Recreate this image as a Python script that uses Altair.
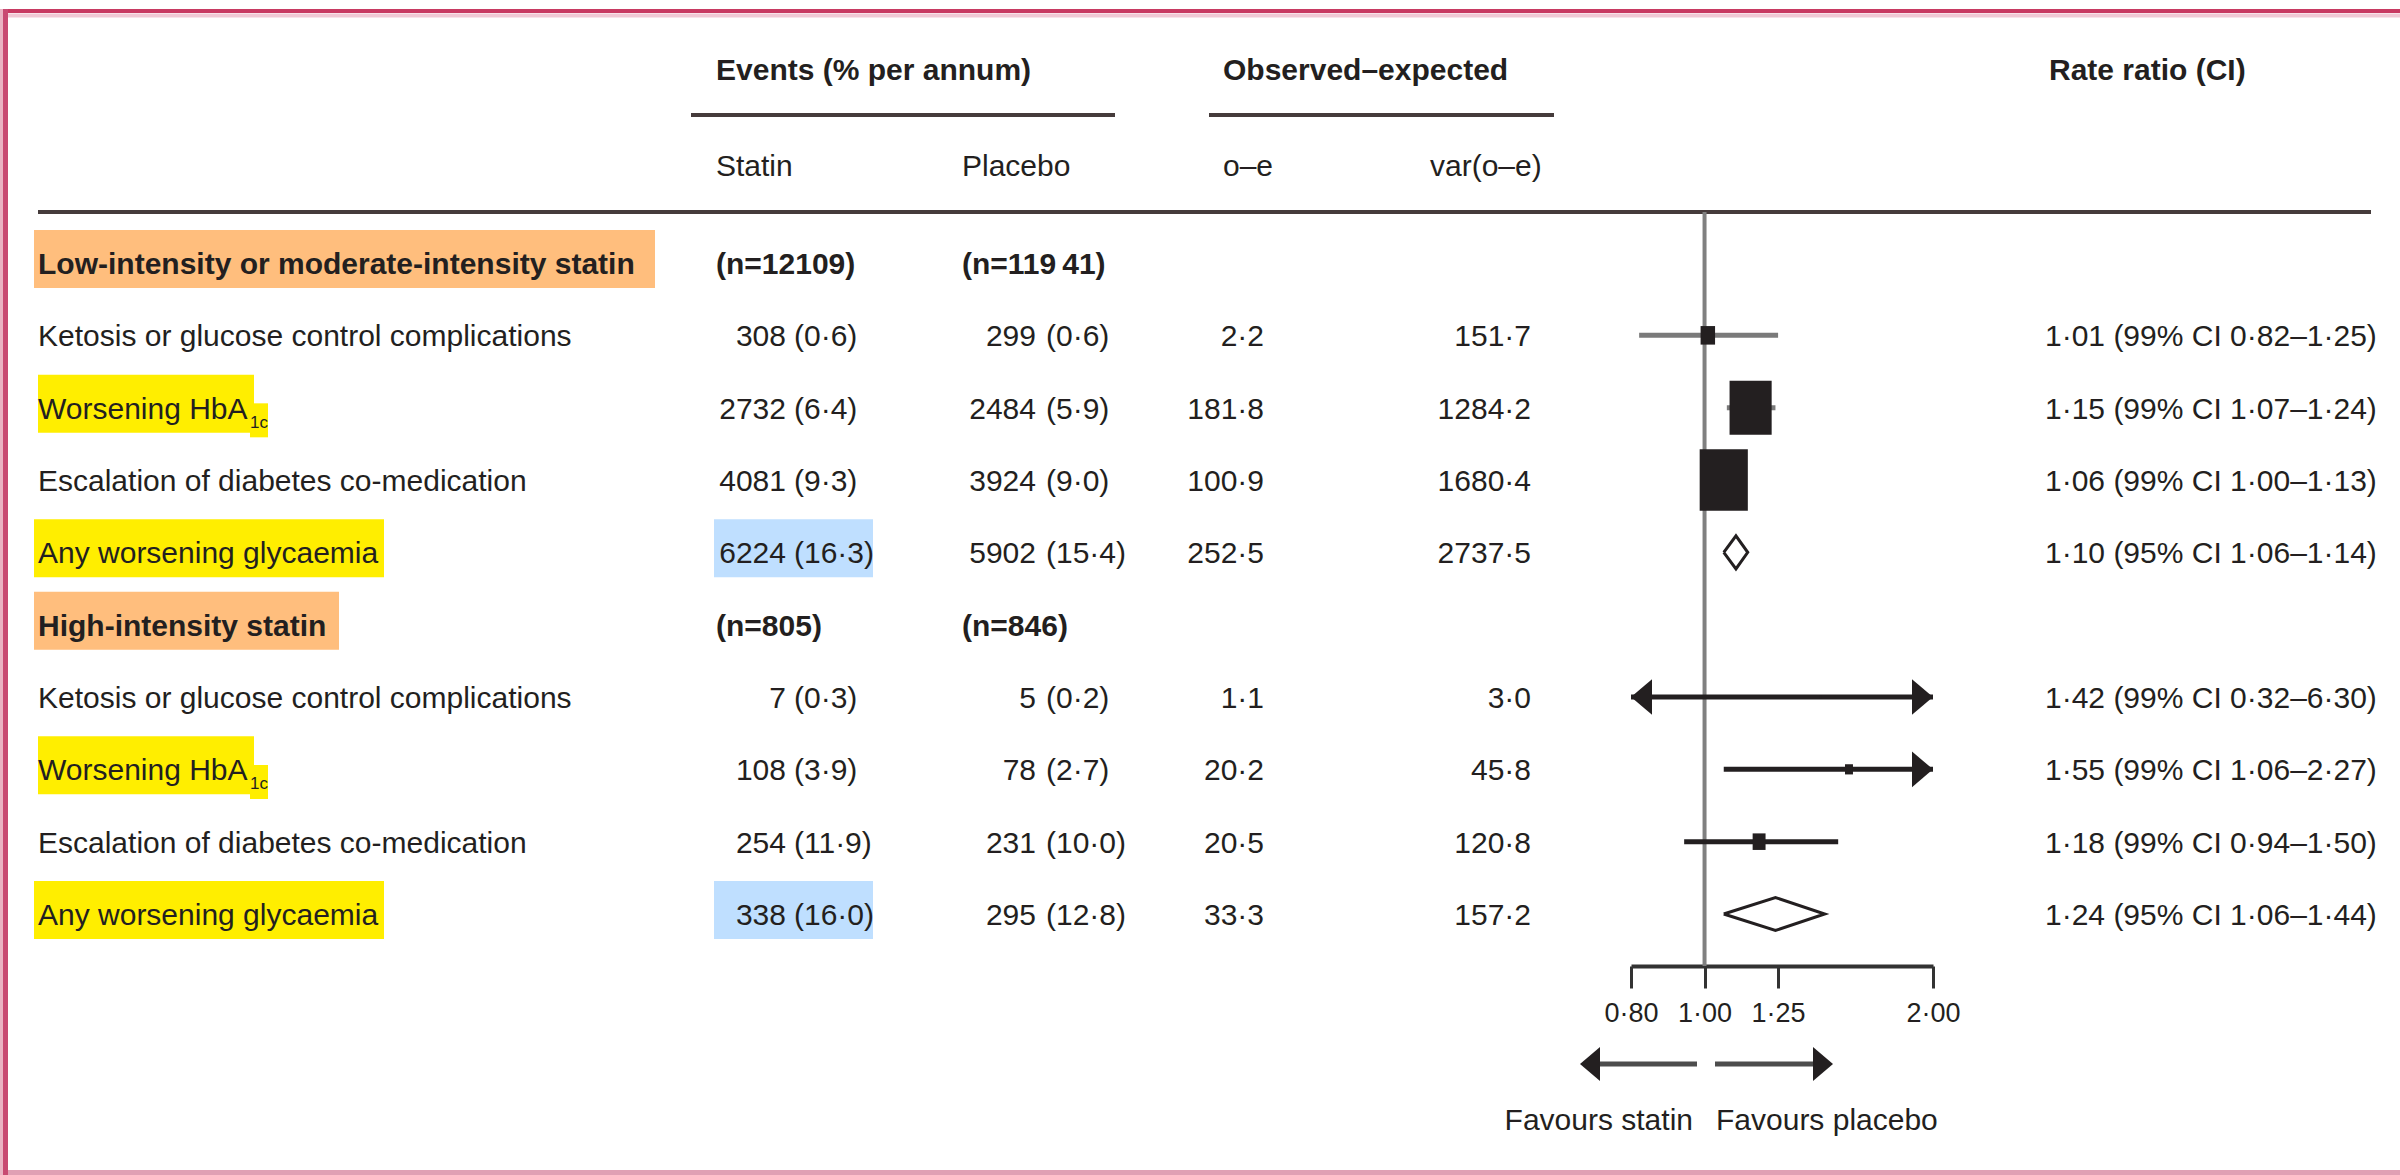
import altair as alt
import pandas as pd

FONT = "'Liberation Sans', Arial, sans-serif"
FS = 30  # body text size
INK = "#231f20"
RULE = "#453b3b"

# ---- table content -------------------------------------------------------
row_labels = [
    "Low-intensity or moderate-intensity statin",
    "Ketosis or glucose control complications",
    "Worsening HbA",
    "Escalation of diabetes co-medication",
    "Any worsening glycaemia",
    "High-intensity statin",
    "Ketosis or glucose control complications",
    "Worsening HbA",
    "Escalation of diabetes co-medication",
    "Any worsening glycaemia",
]
group_rows = [0, 5]
group_n_statin = ["(n=12109)", "(n=805)"]
group_n_placebo = ["(n=119\u200941)", "(n=846)"]
hba1c_rows = [2, 7]
summary_rows = [4, 9]

outcome_rows = [1, 2, 3, 4, 6, 7, 8, 9]
outcome_group = ["low", "low", "low", "low", "high", "high", "high", "high"]
statin_events = [308, 2732, 4081, 6224, 7, 108, 254, 338]
statin_pct = [0.6, 6.4, 9.3, 16.3, 0.3, 3.9, 11.9, 16.0]
placebo_events = [299, 2484, 3924, 5902, 5, 78, 231, 295]
placebo_pct = [0.6, 5.9, 9.0, 15.4, 0.2, 2.7, 10.0, 12.8]
o_minus_e = [2.2, 181.8, 100.9, 252.5, 1.1, 20.2, 20.5, 33.3]
var_o_minus_e = [151.7, 1284.2, 1680.4, 2737.5, 3.0, 45.8, 120.8, 157.2]
rate_ratio = [1.01, 1.15, 1.06, 1.10, 1.42, 1.55, 1.18, 1.24]
ci_low = [0.82, 1.07, 1.00, 1.06, 0.32, 1.06, 0.94, 1.06]
ci_high = [1.25, 1.24, 1.13, 1.14, 6.30, 2.27, 1.50, 1.44]
ci_level = [99, 99, 99, 95, 99, 99, 99, 95]

axis_ticks = [0.80, 1.00, 1.25, 2.00]
AXIS_MIN, AXIS_MAX = axis_ticks[0], axis_ticks[-1]


def dot(v, nd):
    return f"{v:.{nd}f}".replace(".", "\u00b7")


# ---- data frames ---------------------------------------------------------
labels_df = pd.DataFrame({"row": list(range(len(row_labels))), "label": row_labels})
groups_df = labels_df[labels_df.row.isin(group_rows)].copy()
groups_df["n_statin"] = group_n_statin
groups_df["n_placebo"] = group_n_placebo
items_df = labels_df[~labels_df.row.isin(group_rows)]
sub_df = pd.DataFrame({"row": hba1c_rows, "sub": ["1c"] * len(hba1c_rows)})

out = pd.DataFrame({
    "row": outcome_rows,
    "group": outcome_group,
    "s_n": [str(v) for v in statin_events],
    "s_p": [f"({dot(v, 1)})" for v in statin_pct],
    "p_n": [str(v) for v in placebo_events],
    "p_p": [f"({dot(v, 1)})" for v in placebo_pct],
    "oe": [dot(v, 1) for v in o_minus_e],
    "var": var_o_minus_e,
    "var_t": [dot(v, 1) for v in var_o_minus_e],
    "rr": rate_ratio,
    "lo": ci_low,
    "hi": ci_high,
    "rr_t": [f"{dot(r, 2)} ({l}% CI {dot(a, 2)}\u2013{dot(b, 2)})"
             for r, l, a, b in zip(rate_ratio, ci_level, ci_low, ci_high)],
})
out["summary"] = out.row.isin(summary_rows)
out["lo_c"] = out.lo.clip(lower=AXIS_MIN, upper=AXIS_MAX)
out["hi_c"] = out.hi.clip(lower=AXIS_MIN, upper=AXIS_MAX)
est = out[~out.summary]
summ = out[out.summary]

left_arrows = est[est.lo < AXIS_MIN].assign(ax=AXIS_MIN)
right_arrows = est[est.hi > AXIS_MAX].assign(ax=AXIS_MAX)

# diamond outlines for pooled estimates
DIAMOND_H = 0.228
dia_rows = []
for _, r in summ.iterrows():
    pts = [(r.lo, r.row), (r.rr, r.row - DIAMOND_H), (r.hi, r.row),
           (r.rr, r.row + DIAMOND_H), (r.lo, r.row)]
    for k, (xv, yv) in enumerate(pts):
        dia_rows.append({"row": r.row, "k": k, "xv": xv, "yv": yv})
dia_df = pd.DataFrame(dia_rows)

# ---- scales --------------------------------------------------------------
YS = alt.Scale(domain=[0, 9], range=[263, 914], zero=False, nice=False)
XS = alt.Scale(type="log", domain=[AXIS_MIN, AXIS_MAX], range=[1631, 1933], nice=False)
X_AXIS = alt.Axis(
    values=axis_ticks, title=None, grid=False,
    labelExpr="replace(format(datum.value, '.2f'), '.', '\u00b7')",
    domainColor="#333333", domainWidth=4, tickColor="#333333", tickWidth=3,
    tickSize=22, labelFont=FONT, labelFontSize=27, labelColor=INK,
    labelPadding=12, labelFlush=False, labelOverlap=False,
)
Y_ROW = alt.Y("row:Q", scale=YS, axis=None)

BOX = "M-0.883,-1.132L0.883,-1.132L0.883,1.132L-0.883,1.132Z"
HEAD_L = "M0,0L2,-1.7L2,1.7Z"
HEAD_R = "M0,0L-2,-1.7L-2,1.7Z"

layers = []

# ---- highlights behind the text -----------------------------------------
def highlight(rows, x0, x1, color, top=-0.456, bottom=0.346):
    return alt.Chart(pd.DataFrame({"row": rows})).transform_calculate(
        y0=f"datum.row + ({top})", y1=f"datum.row + ({bottom})"
    ).mark_rect(color=color).encode(
        x=alt.value(x0), x2=alt.value(x1),
        y=alt.Y("y0:Q", scale=YS, axis=None), y2="y1:Q",
    )

ORANGE, YELLOW, BLUE = "#ffbe7d", "#ffee00", "#bfdfff"
layers += [
    highlight([0], 34, 655, ORANGE),
    highlight([5], 34, 339, ORANGE),
    highlight(hba1c_rows, 38, 254, YELLOW),
    highlight(hba1c_rows, 250, 268, YELLOW, top=-0.06, bottom=0.41),
    highlight(summary_rows, 34, 384, YELLOW),
    highlight(summary_rows, 714, 873, BLUE),
]

# ---- text columns --------------------------------------------------------
def col(df, field, x, align="left", weight="normal", size=FS, dy=11):
    return alt.Chart(df).mark_text(
        align=align, baseline="alphabetic", dy=dy, font=FONT,
        fontSize=size, fontWeight=weight, color=INK,
    ).encode(x=alt.value(x), y=Y_ROW, text=f"{field}:N")

layers += [
    col(groups_df, "label", 38, weight="bold"),
    col(groups_df, "n_statin", 716, weight="bold"),
    col(groups_df, "n_placebo", 962, weight="bold"),
    col(items_df, "label", 38),
    col(sub_df, "sub", 250, size=17, dy=20),
    col(out, "s_n", 786, align="right"),
    col(out, "s_p", 794),
    col(out, "p_n", 1036, align="right"),
    col(out, "p_p", 1046),
    col(out, "oe", 1264, align="right"),
    col(out, "var_t", 1531, align="right"),
    col(out, "rr_t", 2045),
]

def fixed_text(txt, x, y, align="left", weight="normal", size=FS):
    return alt.Chart(pd.DataFrame({"t": [txt]})).mark_text(
        align=align, baseline="alphabetic", font=FONT, fontSize=size,
        fontWeight=weight, color=INK,
    ).encode(x=alt.value(x), y=alt.value(y), text="t:N")

layers += [
    fixed_text("Events (% per annum)", 716, 80, weight="bold"),
    fixed_text("Observed\u2013expected", 1223, 80, weight="bold"),
    fixed_text("Rate ratio (CI)", 2049, 80, weight="bold"),
    fixed_text("Statin", 716, 176),
    fixed_text("Placebo", 962, 176),
    fixed_text("o\u2013e", 1223, 176),
    fixed_text("var(o\u2013e)", 1430, 176),
    fixed_text("Favours statin", 1693, 1130, align="right"),
    fixed_text("Favours placebo", 1716, 1130),
]

# ---- header rules --------------------------------------------------------
def hrule(x0, x1, y, color=RULE, width=4):
    return alt.Chart(pd.DataFrame({"a": [0]})).mark_rule(
        color=color, strokeWidth=width
    ).encode(x=alt.value(x0), x2=alt.value(x1), y=alt.value(y))

layers += [hrule(691, 1115, 115), hrule(1209, 1554, 115), hrule(38, 2371, 212)]

# ---- forest plot ---------------------------------------------------------
layers.append(
    alt.Chart(pd.DataFrame({"v": [1.0]})).mark_rule(color="#808080", strokeWidth=4).encode(
        x=alt.X("v:Q", scale=XS, axis=X_AXIS), y=alt.value(212), y2=alt.value(966)
    )
)
layers.append(
    alt.Chart(est).mark_rule(strokeWidth=5).encode(
        x=alt.X("lo_c:Q", scale=XS, axis=X_AXIS), x2="hi_c:Q", y=Y_ROW,
        color=alt.Color("group:N", scale=alt.Scale(domain=["low", "high"],
                        range=["#7a7a7a", INK]), legend=None),
    )
)
layers.append(
    alt.Chart(est).mark_point(shape=BOX, filled=True, color=INK, opacity=1, strokeWidth=0).encode(
        x=alt.X("rr:Q", scale=XS, axis=X_AXIS), y=Y_ROW,
        size=alt.Size("var:Q", scale=alt.Scale(domain=[0, 1000], range=[0, 1770]), legend=None),
    )
)
for df, shape in [(left_arrows, HEAD_L), (right_arrows, HEAD_R)]:
    layers.append(
        alt.Chart(df).mark_point(shape=shape, filled=True, color=INK, opacity=1,
                                 size=441, strokeWidth=0).encode(
            x=alt.X("ax:Q", scale=XS, axis=X_AXIS), y=Y_ROW
        )
    )
layers.append(
    alt.Chart(dia_df).mark_line(color=INK, strokeWidth=3, strokeJoin="miter").encode(
        x=alt.X("xv:Q", scale=XS, axis=X_AXIS), y=alt.Y("yv:Q", scale=YS, axis=None),
        detail="row:N", order="k:Q",
    )
)

# direction arrows under the axis
layers += [hrule(1600, 1697, 1064, color="#4d4d4d", width=5),
           hrule(1715, 1813, 1064, color="#4d4d4d", width=5)]
for x, shape in [(1580, HEAD_L), (1833, HEAD_R)]:
    layers.append(
        alt.Chart(pd.DataFrame({"a": [0]})).mark_point(
            shape=shape, filled=True, color=INK, opacity=1, size=400, strokeWidth=0
        ).encode(x=alt.value(x), y=alt.value(1064))
    )

# ---- frame ---------------------------------------------------------------
layers += [
    hrule(0, 2400, 15.5, color="#f1c9d5", width=4),
    hrule(0, 2400, 11, color="#c83a62", width=4),
    hrule(0, 2400, 1172.5, color="#e0a0b4", width=5),
    alt.Chart(pd.DataFrame({"a": [0]})).mark_rule(color="#eab3c3", strokeWidth=3).encode(
        x=alt.value(1.5), y=alt.value(9), y2=alt.value(1175)),
    alt.Chart(pd.DataFrame({"a": [0]})).mark_rule(color="#c84a72", strokeWidth=5).encode(
        x=alt.value(5.5), y=alt.value(9), y2=alt.value(1175)),
]

chart = alt.layer(*layers).properties(
    width=2400, height=966,
    autosize=alt.AutoSizeParams(type="none"),
    padding={"left": 0, "top": 0, "right": 0, "bottom": 209},
    background="white",
).configure_view(stroke=None)

chart.save("out.html", embed_options={"renderer": "svg", "actions": False})
